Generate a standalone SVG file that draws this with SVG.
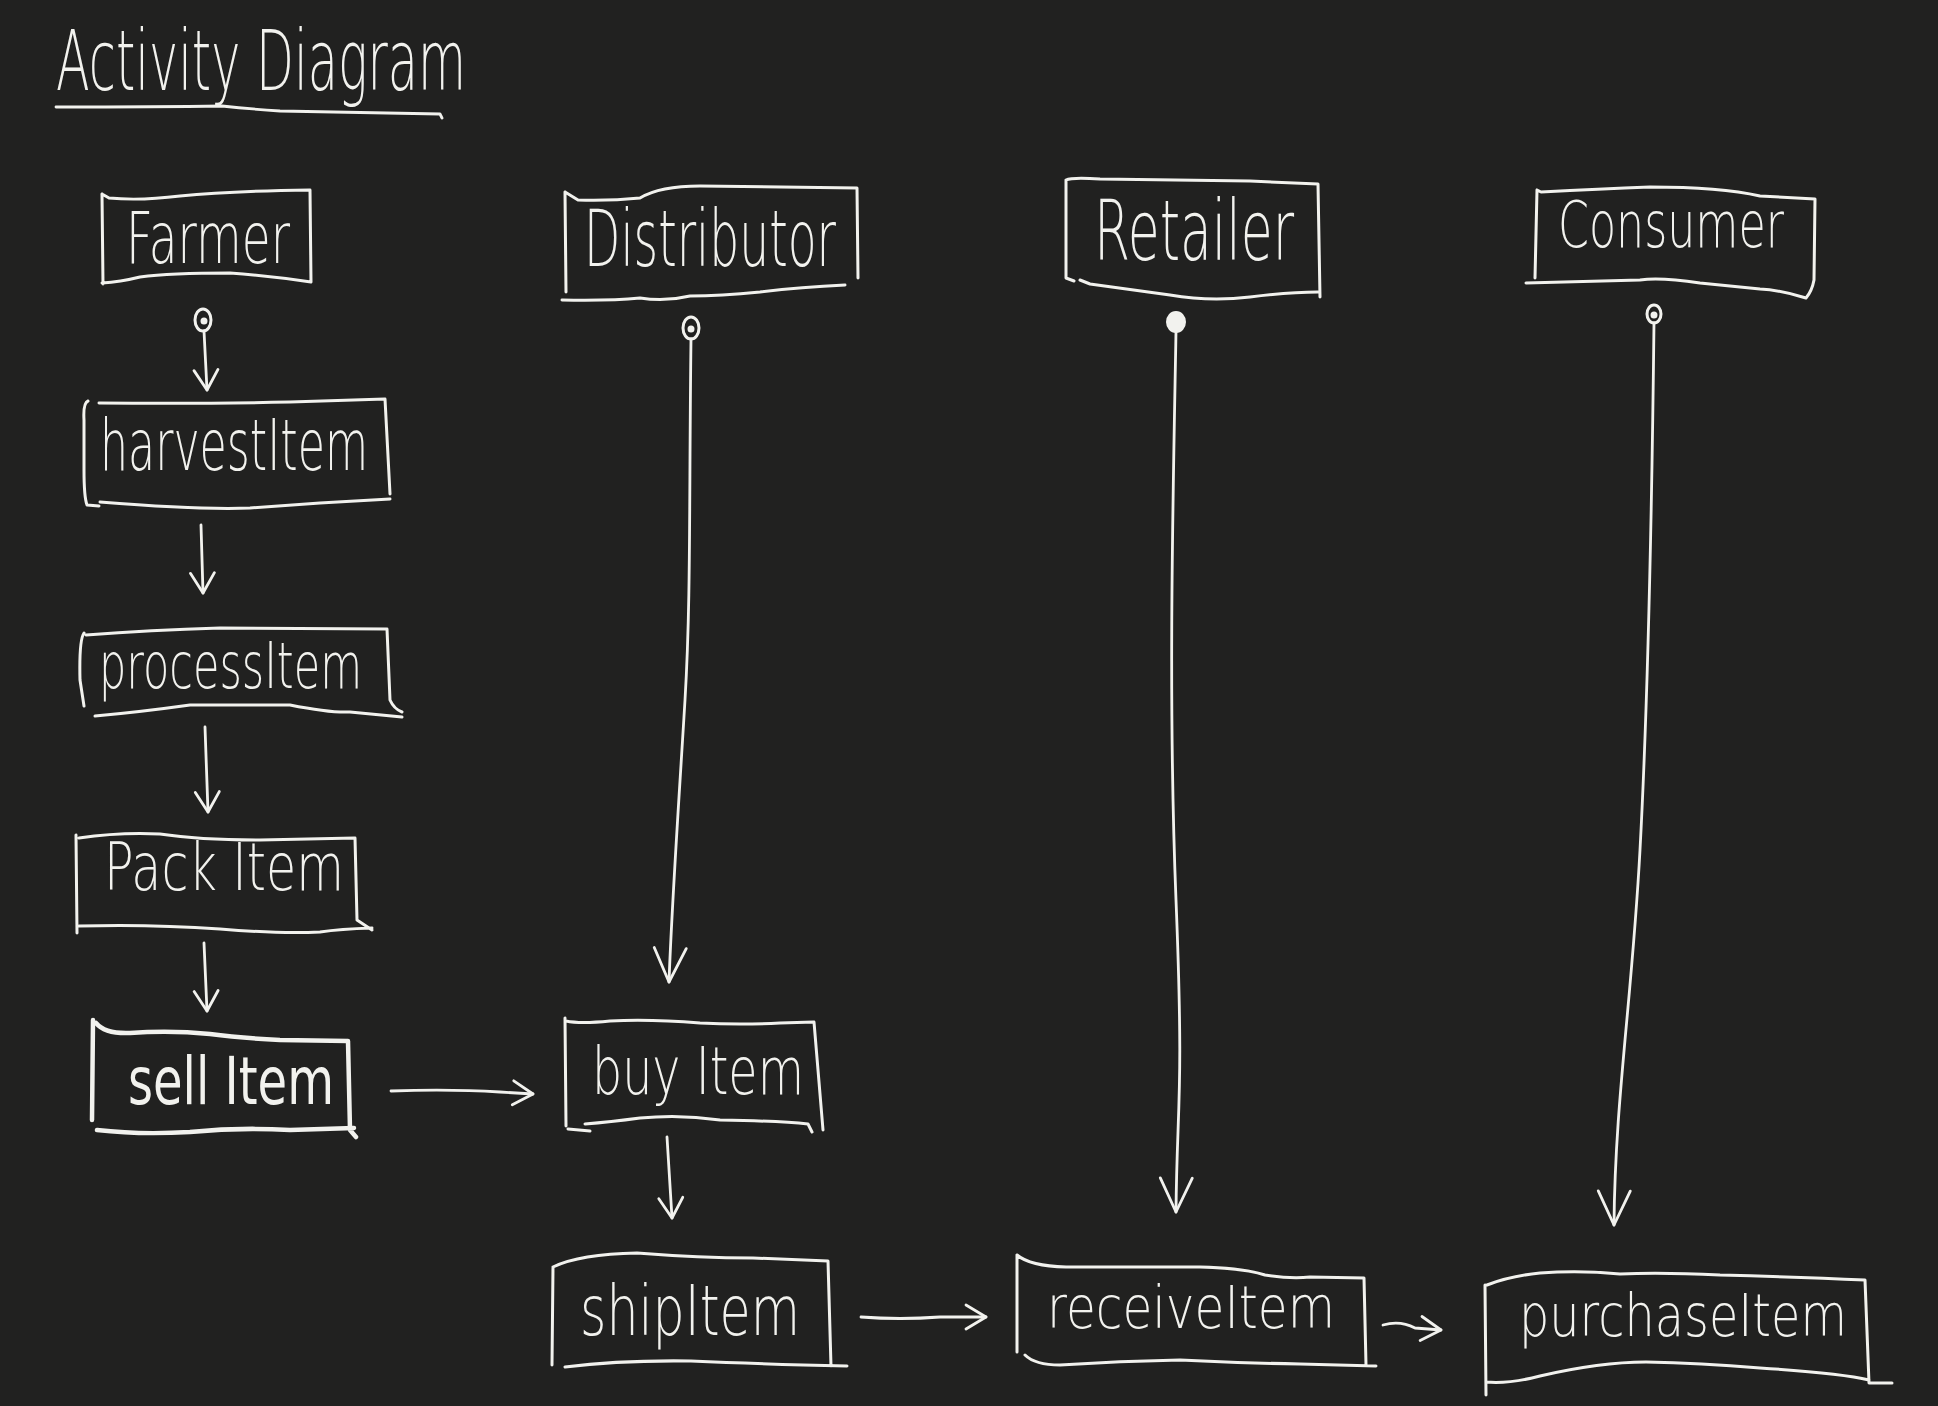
<svg xmlns="http://www.w3.org/2000/svg" width="1938" height="1406" viewBox="0 0 1938 1406">
<defs>
<style>
.bg{fill:#212120}
.box{fill:none;stroke:#f2f2ee;stroke-width:3;stroke-linecap:round;stroke-linejoin:round}
.bold{stroke-width:4.5}
.ln{fill:none;stroke:#f2f2ee;stroke-width:2.8;stroke-linecap:round;stroke-linejoin:round}
.t{fill:#f2f2ee;font-family:"DejaVu Sans","Liberation Sans",sans-serif;font-weight:200}
.tb{fill:#f2f2ee;font-family:"DejaVu Sans","Liberation Sans",sans-serif;font-weight:normal}
.dot{fill:none;stroke:#f2f2ee;stroke-width:3}
.dotf{fill:#f2f2ee;stroke:#f2f2ee;stroke-width:2}
</style>
<marker id="ah" viewBox="0 0 30 30" markerUnits="userSpaceOnUse" markerWidth="30" markerHeight="30" refX="24" refY="15" orient="auto">
<path d="M4,3 L24,15 L4,27" fill="none" stroke="#f2f2ee" stroke-width="2.8" stroke-linecap="round" stroke-linejoin="round"/>
</marker>
<marker id="ahb" viewBox="0 0 44 44" markerUnits="userSpaceOnUse" markerWidth="44" markerHeight="44" refX="38" refY="22" orient="auto">
<path d="M4,6 L38,22 L4,38" fill="none" stroke="#f2f2ee" stroke-width="2.8" stroke-linecap="round" stroke-linejoin="round"/>
</marker>
</defs>
<rect class="bg" x="0" y="0" width="1938" height="1406"/>

<g id="title">
<text class="t" x="56" y="90" font-size="84" textLength="410" lengthAdjust="spacingAndGlyphs">Activity Diagram</text>
<path class="ln" d="M56,107 Q160,107 222,106 Q250,109 280,111 L440,114 L442,118"/>
</g>

<g id="farmer">
<path class="box" d="M102,194 L109,198 Q140,201 180,196 Q230,191 310,190 L311,282 M311,282 Q270,276 230,273 Q170,273 140,277 Q120,282 102,283 M102,194 L103,284"/>
<text class="t" x="126" y="263" font-size="72" textLength="164" lengthAdjust="spacingAndGlyphs">Farmer</text>
</g>

<g id="distributor">
<path class="box" d="M565,192 L578,200 Q610,201 640,198 Q660,186 700,186 L857,188 L858,278 M845,285 Q800,287 760,292 Q720,296 690,296 Q665,302 640,298 Q610,301 562,300 M565,192 L566,292"/>
<text class="t" x="584" y="266" font-size="78" textLength="252" lengthAdjust="spacingAndGlyphs">Distributor</text>
</g>

<g id="retailer">
<path class="box" d="M1066,180 Q1072,177 1100,179 L1250,181 L1318,184 L1320,297 M1318,292 Q1290,292 1250,297 Q1210,302 1170,295 L1090,284 L1080,280 M1066,180 L1066,278 L1074,281"/>
<text class="t" x="1094" y="260" font-size="84" textLength="200" lengthAdjust="spacingAndGlyphs">Retailer</text>
</g>

<g id="consumer">
<path class="box" d="M1537,190 L1541,192 Q1600,189 1650,187 Q1720,187 1760,196 L1815,199 L1814,280 Q1812,291 1806,298 Q1780,290 1760,289 L1700,283 Q1660,277 1640,280 L1526,283 M1537,190 L1535,278"/>
<text class="t" x="1558" y="247" font-size="64" textLength="226" lengthAdjust="spacingAndGlyphs">Consumer</text>
</g>

<g id="harvestItem">
<path class="box" d="M88,401 Q83,403 84,420 L84,470 Q84,497 87,505 L99,506 M99,403 Q200,404 290,402 L385,399 L390,494 M100,502 Q200,510 250,508 L320,503 L390,499"/>
<text class="t" x="100" y="470" font-size="72" textLength="268" lengthAdjust="spacingAndGlyphs">harvestItem</text>
</g>

<g id="processItem">
<path class="box" d="M84,633 Q79,640 80,680 L84,706 M86,635 Q150,630 220,628 L387,629 L390,700 Q394,709 402,712 M95,716 Q140,712 190,705 L290,705 Q330,713 350,712 L402,717"/>
<text class="t" x="99" y="688" font-size="64" textLength="263" lengthAdjust="spacingAndGlyphs">processItem</text>
</g>

<g id="packItem">
<path class="box" d="M76,835 L77,933 M79,838 Q120,832 160,834 Q200,840 260,840 L355,838 L357,920 L372,930 M79,926 Q150,924 220,929 Q280,934 320,932 Q340,929 372,928"/>
<text class="t" x="104" y="890" font-size="66" textLength="240" lengthAdjust="spacingAndGlyphs">Pack Item</text>
</g>

<g id="sellItem">
<path class="box bold" d="M93,1020 L92,1120 M96,1023 Q105,1034 130,1033 Q170,1030 210,1034 Q240,1038 280,1040 L348,1041 L350,1130 L356,1137 M97,1130 Q140,1135 190,1132 Q240,1127 290,1130 L354,1128"/>
<text class="tb" x="128" y="1104" font-size="66" textLength="206" lengthAdjust="spacingAndGlyphs">sell Item</text>
</g>

<g id="buyItem">
<path class="box" d="M565,1018 L566,1126 M566,1021 Q580,1024 610,1021 Q650,1019 700,1023 Q740,1025 780,1023 L814,1022 L823,1130 M585,1124 Q610,1122 640,1118 Q680,1114 720,1120 Q780,1121 808,1124 L812,1132 M568,1129 L590,1131"/>
<text class="t" x="592" y="1094" font-size="66" textLength="212" lengthAdjust="spacingAndGlyphs">buy Item</text>
</g>

<g id="shipItem">
<path class="box" d="M553,1267 L552,1365 M553,1267 Q580,1254 637,1253 Q700,1258 753,1258 L828,1261 L831,1366 M565,1367 Q620,1360 691,1361 Q760,1364 847,1366"/>
<text class="t" x="580" y="1335" font-size="70" textLength="220" lengthAdjust="spacingAndGlyphs">shipItem</text>
</g>

<g id="receiveItem">
<path class="box" d="M1017,1255 L1017,1352 M1017,1255 Q1030,1266 1066,1267 L1200,1267 Q1243,1268 1265,1275 Q1290,1279 1310,1277 L1364,1278 L1366,1365 M1025,1355 Q1035,1365 1060,1365 Q1120,1361 1180,1360 Q1240,1363 1300,1364 L1376,1366"/>
<text class="t" x="1047" y="1328" font-size="58" textLength="288" lengthAdjust="spacingAndGlyphs">receiveItem</text>
</g>

<g id="purchaseItem">
<path class="box" d="M1485,1285 L1486,1395 M1487,1285 Q1510,1276 1540,1273 Q1580,1270 1620,1274 Q1660,1272 1720,1275 Q1800,1277 1865,1280 L1869,1383 L1892,1383 M1486,1382 Q1510,1384 1540,1376 Q1600,1362 1646,1362 Q1700,1363 1760,1368 Q1840,1373 1869,1380"/>
<text class="t" x="1519" y="1336" font-size="59" textLength="328" lengthAdjust="spacingAndGlyphs">purchaseItem</text>
</g>

<g id="startNodes">
<ellipse class="dot" cx="203" cy="320" rx="8" ry="11"/><circle class="dotf" cx="204" cy="321" r="2.5"/>
<ellipse class="dot" cx="691" cy="328" rx="8" ry="11"/><circle class="dotf" cx="691" cy="329" r="2.5"/>
<ellipse class="dotf" cx="1176" cy="322" rx="9" ry="10"/>
<ellipse class="dot" cx="1654" cy="314" rx="7" ry="9"/><circle class="dotf" cx="1654" cy="315" r="2.5"/>
</g>

<g id="connectors">
<path class="ln" marker-end="url(#ah)" d="M204,331 L207,390"/>
<path class="ln" marker-end="url(#ah)" d="M201,525 L203,593"/>
<path class="ln" marker-end="url(#ah)" d="M205,727 L208,812"/>
<path class="ln" marker-end="url(#ah)" d="M204,943 L207,1011"/>
<path class="ln" marker-end="url(#ah)" d="M391,1091 Q450,1089 500,1092 L533,1094"/>
<path class="ln" marker-end="url(#ah)" d="M667,1137 L672,1218"/>
<path class="ln" marker-end="url(#ah)" d="M861,1317 Q900,1320 940,1317 L986,1317"/>
<path class="ln" marker-end="url(#ah)" d="M1383,1325 Q1400,1320 1415,1328 L1441,1330"/>
<path class="ln" marker-end="url(#ahb)" d="M691,339 C689,500 691,600 685,700 S672,900 669,982"/>
<path class="ln" marker-end="url(#ahb)" d="M1176,332 C1173,500 1168,700 1176,900 S1177,1100 1176,1212"/>
<path class="ln" marker-end="url(#ahb)" d="M1654,323 C1652,500 1648,700 1640,850 S1615,1100 1614,1225"/>
</g>
</svg>
